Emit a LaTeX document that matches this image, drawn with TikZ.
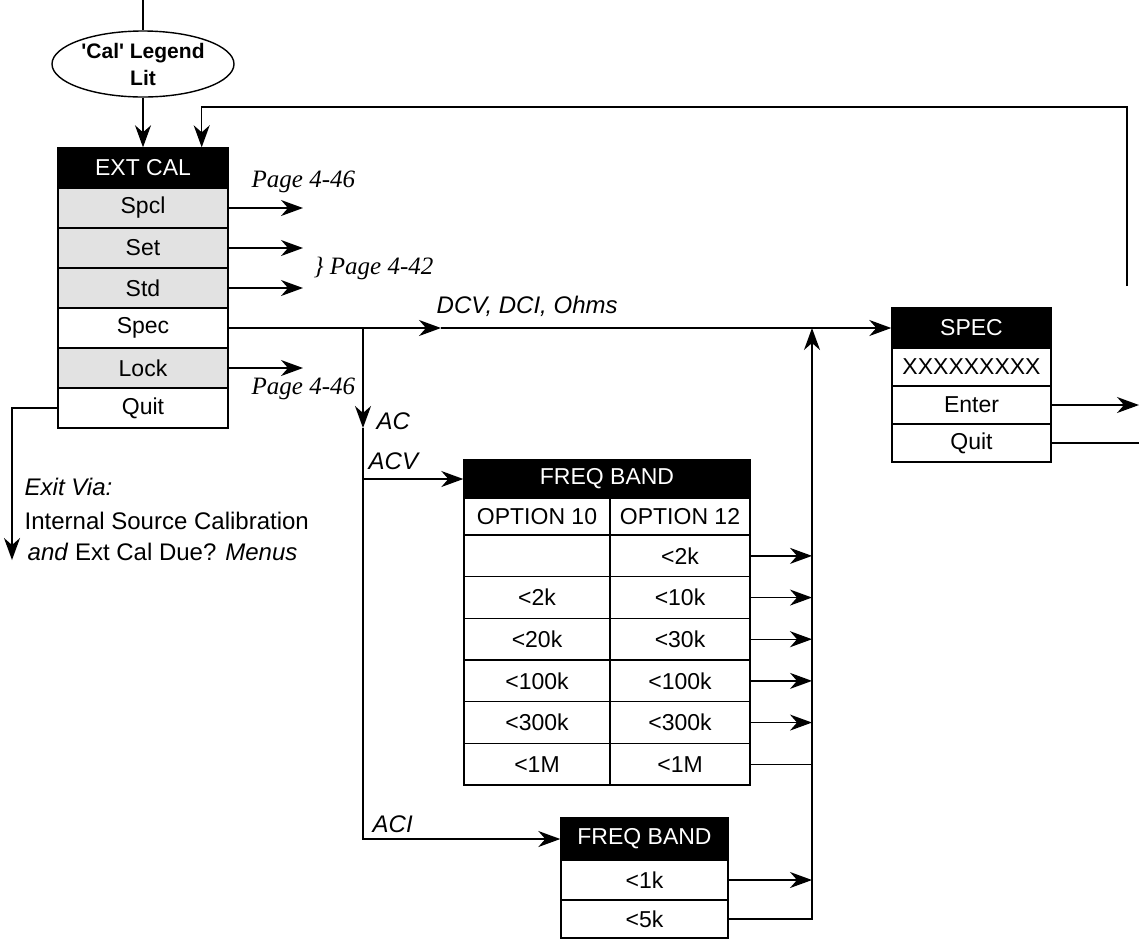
\documentclass[tikz,border=0pt]{standalone}
\usepackage{fontspec}
\setmainfont{Liberation Sans}
\newfontfamily\pagefont{Liberation Serif}
\usetikzlibrary{arrows.meta, shapes.geometric}
\definecolor{Shade}{HTML}{E2E2E2}

\begin{document}
\begin{tikzpicture}[x=0.5pt, y=-0.5pt, line width=0.7pt,
  font=\fontsize{11.5}{13.5}\selectfont,
  flow/.style={-{Stealth[length=11pt, width=8pt, inset=3.5pt]}},
  menuitem/.style={draw, fill=white, inner sep=0pt, minimum height=20pt},
  menuhead/.style={menuitem, fill=black, text=white},
  shaded/.style={menuitem, fill=Shade},
  pagelbl/.style={inner sep=0pt, anchor=west, font=\pagefont\itshape\fontsize{12.5}{14}\selectfont},
  via/.style={inner sep=0pt, anchor=west, font=\fontsize{12}{14}\selectfont\itshape},
  exitlbl/.style={inner sep=0pt, anchor=west, font=\fontsize{12}{14}\selectfont}]
  \useasboundingbox (0,0) rectangle (1140,939);

  % legend
  \coordinate (top) at (143,0);
  \node[draw, ellipse, minimum width=91pt, minimum height=33pt, inner sep=0pt,
    align=center, font=\bfseries\fontsize{10.5}{13.5}\selectfont] (cal) at (143,64)
    {\textquotesingle Cal\textquotesingle{} Legend\\Lit};
  \draw (top) -- (cal.north);

  % EXT CAL menu
  \node[menuhead, minimum width=85pt] (exthead) at (143,168) {EXT CAL};
  \node[shaded, minimum width=85pt] (extspcl) at (143,208) {Spcl};
  \node[shaded, minimum width=85pt] (extset) at (143,248) {Set};
  \node[shaded, minimum width=85pt] (extstd) at (143,288) {Std};
  \node[menuitem, minimum width=85pt] (extspec) at (143,328) {Spec};
  \node[shaded, minimum width=85pt] (extlock) at (143,368) {Lock};
  \node[menuitem, minimum width=85pt] (extquit) at (143,408) {Quit};
  \draw[flow] (cal.south) -- (exthead.north);

  % page references
  \coordinate (pgend) at (303,0);
  \draw[flow] (extspcl.east) -- (extspcl.east -| pgend);
  \draw[flow] (extset.east) -- (extset.east -| pgend);
  \draw[flow] (extstd.east) -- (extstd.east -| pgend);
  \draw[flow] (extlock.east) -- (extlock.east -| pgend);
  \node[pagelbl] (pg1) at (251,182) {Page 4-46};
  \node[pagelbl] (pg2) at (313,268) {\} Page 4-42};
  \node[pagelbl] (pg3) at (251,389) {Page 4-46};

  % SPEC menu
  \node[menuhead, minimum width=79.5pt] (spechead) at (971.5,328) {SPEC};
  \node[menuitem, minimum width=79.5pt, minimum height=19pt] (specx) at (971.5,367) {XXXXXXXXX};
  \node[menuitem, minimum width=79.5pt, minimum height=19pt] (specenter) at (971.5,405) {Enter};
  \node[menuitem, minimum width=79.5pt, minimum height=19pt] (specquit) at (971.5,443) {Quit};
  \coordinate (dcvtip) at (441,328);
  \draw[flow] (extspec.east) -- (dcvtip);
  \draw[flow] (dcvtip) -- (spechead.west);
  \node[via] (dcv) at (436,306) {DCV, DCI, Ohms};

  % off-page connections
  \coordinate (rightedge) at (1139,0);
  \draw[flow] (specenter.east) -- (specenter.east -| rightedge);
  \draw (specquit.east) -- (specquit.east -| rightedge);
  \coordinate (fbstart) at (1127,286);
  \coordinate (fbtop) at (1127,107);
  \draw[flow] (fbstart) -- (fbtop) -| ([xshift=-13.5pt]exthead.north east);

  % exit
  \coordinate (exittip) at (12,560);
  \draw[flow] (extquit.west) -| (exittip);
  \node[exitlbl] (exit1) at (24,487) {\itshape Exit Via:};
  \node[exitlbl] (exit2) at (24,521) {Internal Source Calibration};
  \node[exitlbl] (exit3) at (27,552) {\itshape and\/\upshape{} Ext Cal Due? \itshape Menus};

  % ACV frequency bands
  \node[menuhead, minimum width=143pt, minimum height=19pt] (bighead) at (607,479) {FREQ BAND};
  \node[menuitem, minimum width=73pt, minimum height=18.5pt] (opt10) at (537,516.5) {OPTION 10};
  \node[menuitem, minimum width=70pt, minimum height=18.5pt] (opt12) at (680,516.5) {OPTION 12};
  \foreach \i/\left/\right in {1//{<2k}, 2/{<2k}/{<10k}, 3/{<20k}/{<30k},
      4/{<100k}/{<100k}, 5/{<300k}/{<300k}, 6/{<1M}/{<1M}} {
    \node[menuitem, minimum width=73pt, minimum height=20.83pt] (r\i l) at (537,514.2+41.67*\i) {\left};
    \node[menuitem, minimum width=70pt, minimum height=20.83pt] (r\i r) at (680,514.2+41.67*\i) {\right};
  }

  % ACI frequency bands
  \node[menuhead, minimum width=83.5pt, minimum height=21pt] (lohead) at (644.5,839) {FREQ BAND};
  \node[menuitem, minimum width=83.5pt] (lo1k) at (644.5,880) {<1k};
  \node[menuitem, minimum width=83.5pt, minimum height=19pt] (lo5k) at (644.5,919) {<5k};

  % AC branch
  \coordinate (acsplit) at (363,328);
  \coordinate (actip) at (363,428);
  \draw[flow] (acsplit) -- (actip);
  \draw[flow] (actip) |- (lohead.west);
  \draw[flow] (acsplit |- bighead.west) -- (bighead.west);
  \node[via] (aclbl) at (376,421) {AC};
  \node[via] (acvlbl) at (368,461) {ACV};
  \node[via] (acilbl) at (372,824) {ACI};

  % return to SPEC
  \coordinate (vtop) at (812,328);
  \foreach \i in {1,...,5}
    \draw[flow] (r\i r.east) -- (r\i r.east -| vtop);
  \draw (r6r.east) -- (r6r.east -| vtop);
  \draw[flow] (lo1k.east) -- (lo1k.east -| vtop);
  \draw[flow] (lo5k.east) -| (vtop);
\end{tikzpicture}
\end{document}
